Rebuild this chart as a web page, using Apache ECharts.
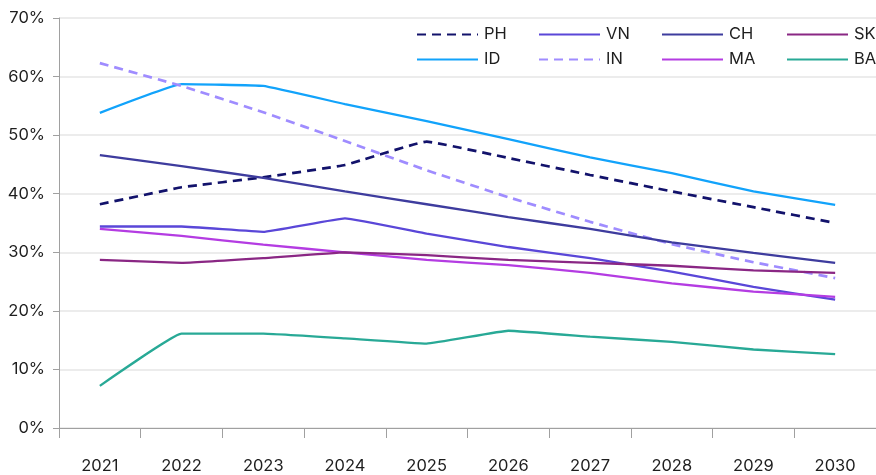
<!DOCTYPE html>
<html>
<head>
<meta charset="utf-8">
<script src="https://cdn.jsdelivr.net/npm/echarts@6/dist/echarts.min.js"></script>
<style>
  html, body { margin: 0; padding: 0; background: #fff; }
  #chart { width: 876px; height: 475px; }
</style>
</head>
<body>
<div id="chart"></div>
<script>
// years on the x axis
var years = ['2021', '2022', '2023', '2024', '2025', '2026', '2027', '2028', '2029', '2030']

// share values, in percent
var PH = [38.2, 41.1, 42.8, 44.9, 48.9, 46.1, 43.2, 40.4, 37.7, 35.0]
var ID = [53.8, 58.7, 58.4, 55.3, 52.4, 49.3, 46.2, 43.5, 40.4, 38.1]
var IN = [62.3, 58.4, 53.9, 49.0, 44.0, 39.4, 35.2, 31.4, 28.3, 25.6]
var CH = [46.6, 44.7, 42.7, 40.4, 38.2, 36.0, 34.0, 31.7, 29.9, 28.2]
var VN = [34.4, 34.4, 33.5, 35.8, 33.2, 30.9, 29.0, 26.7, 24.1, 21.9]
var MA = [34.0, 32.8, 31.3, 30.0, 28.7, 27.8, 26.5, 24.7, 23.3, 22.4]
var SK = [28.7, 28.2, 29.0, 30.0, 29.5, 28.7, 28.2, 27.7, 26.9, 26.5]
var BA = [7.2, 16.1, 16.1, 15.3, 14.4, 16.6, 15.6, 14.7, 13.4, 12.6]

var chart = echarts.init(document.getElementById('chart'))

var font = 'Inter, "Noto Sans", sans-serif'

function line (name, data, color, dashed) {
  return {
    name: name,
    type: 'line',
    data: data,
    symbol: 'none',
    smooth: 0.08,
    lineStyle: {
      color: color,
      width: dashed ? 2.7 : 2.3,
      type: dashed ? [9, 6] : 'solid'
    },
    itemStyle: { color: color }
  }
}

// one legend per column, two rows each
function legendCol (left, names) {
  return {
    left: left,
    top: 26,
    padding: 0,
    orient: 'vertical',
    itemWidth: 61,
    itemHeight: 14,
    itemGap: 8,
    selectedMode: false,
    itemStyle: { opacity: 0 },
    data: names,
    textStyle: { fontFamily: font, fontSize: 16.5, color: '#1e1e1e', padding: [0, 0, 0, 1] }
  }
}

chart.setOption({
  animation: false,
  textStyle: { fontFamily: font },
  grid: { left: 59, right: 0, top: 18, bottom: 47 },
  legend: [
    legendCol(416, ['PH', 'ID']),
    legendCol(538, ['VN', 'IN']),
    legendCol(661, ['CH', 'MA']),
    legendCol(786, ['SK', 'BA'])
  ],
  xAxis: {
    type: 'category',
    data: years,
    boundaryGap: true,
    axisLine: { lineStyle: { color: '#a0a0a0', width: 1 } },
    axisTick: { show: true, length: 10, lineStyle: { color: '#a0a0a0' } },
    axisLabel: { margin: 30, fontSize: 16.5, color: '#1e1e1e', fontFamily: font }
  },
  yAxis: {
    type: 'value',
    min: 0,
    max: 70,
    interval: 10,
    axisLine: { show: true, lineStyle: { color: '#a0a0a0', width: 1 } },
    axisTick: { show: true, length: 6, lineStyle: { color: '#a0a0a0' } },
    axisLabel: { formatter: '{value}%', margin: 14, fontSize: 16.5, color: '#1e1e1e', fontFamily: font },
    splitLine: { lineStyle: { color: '#e6e6e6', width: 1.5 } }
  },
  series: [
    line('PH', PH, '#12126b', true),
    line('ID', ID, '#12a3fb', false),
    line('VN', VN, '#5a47d8', false),
    line('IN', IN, '#9f8cff', true),
    line('CH', CH, '#3e3c9e', false),
    line('MA', MA, '#b43ce2', false),
    line('SK', SK, '#8a2784', false),
    line('BA', BA, '#28a996', false)
  ]
})
</script>
</body>
</html>
